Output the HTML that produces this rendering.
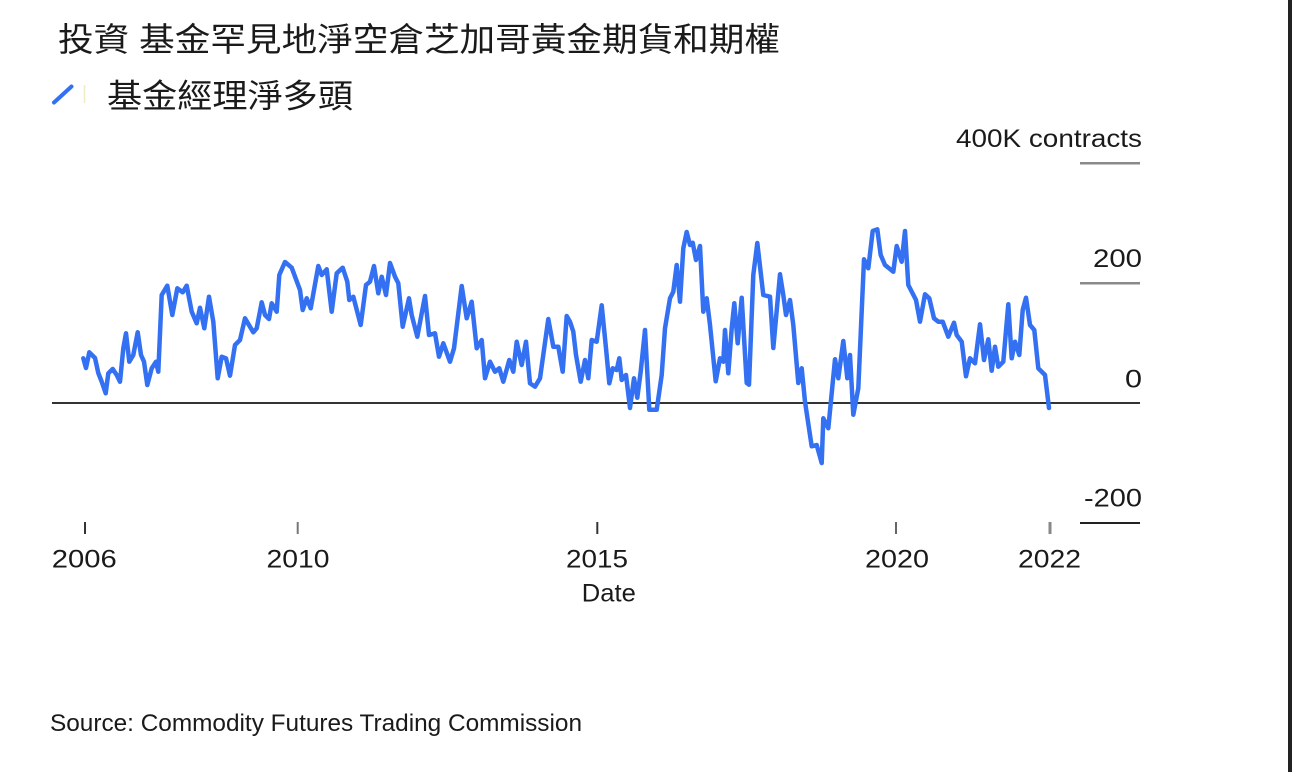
<!DOCTYPE html>
<html>
<head>
<meta charset="utf-8">
<style>
  html, body { margin:0; padding:0; background:#ffffff; }
  body { width:1292px; height:772px; overflow:hidden; }
  svg { display:block; }
  .lat { font-family: "Liberation Sans", Arial, sans-serif; fill:#1a1a1a; }
  .cjk { font-family: "Liberation Sans", "Noto Sans CJK TC", "Noto Sans CJK SC", sans-serif; fill:#1a1a1a; }
</style>
</head>
<body>
<svg width="1292" height="772" viewBox="0 0 1292 772" xmlns="http://www.w3.org/2000/svg">
  <rect x="0" y="0" width="1292" height="772" fill="#ffffff"/>

  <!-- Title -->
  <text class="cjk" x="58" y="51" font-size="33" textLength="722" lengthAdjust="spacingAndGlyphs">投資 基金罕見地淨空倉芝加哥黃金期貨和期權</text>

  <!-- Legend -->
  <line x1="54" y1="102.5" x2="71.5" y2="86.5" stroke="#3371f2" stroke-width="4" stroke-linecap="round"/>
  <line x1="84.5" y1="85" x2="84.5" y2="103" stroke="#f1ecc4" stroke-width="1.5"/>
  <text class="cjk" x="107" y="107.5" font-size="33" textLength="246" lengthAdjust="spacingAndGlyphs">基金經理淨多頭</text>

  <!-- Y axis gridline stubs -->
  <line x1="1080" y1="163.3" x2="1140" y2="163.3" stroke="#8a8a8a" stroke-width="2.5"/>
  <line x1="1080" y1="283.3" x2="1140" y2="283.3" stroke="#8a8a8a" stroke-width="2.5"/>
  <line x1="1080" y1="523" x2="1140" y2="523" stroke="#222222" stroke-width="2"/>
  <!-- zero line -->
  <line x1="52" y1="403" x2="1140" y2="403" stroke="#333333" stroke-width="2"/>

  <!-- Y labels -->
  <text class="lat" x="1142" y="147" font-size="25" text-anchor="end" textLength="186" lengthAdjust="spacingAndGlyphs">400K contracts</text>
  <text class="lat" x="1142" y="267" font-size="25" text-anchor="end" textLength="49" lengthAdjust="spacingAndGlyphs">200</text>
  <text class="lat" x="1142" y="387.3" font-size="25" text-anchor="end" textLength="17" lengthAdjust="spacingAndGlyphs">0</text>
  <text class="lat" x="1142" y="506.5" font-size="25" text-anchor="end" textLength="58" lengthAdjust="spacingAndGlyphs">-200</text>

  <!-- X ticks -->
  <g stroke-width="2">
    <line x1="85" y1="522" x2="85" y2="534" stroke="#333"/>
    <line x1="297.7" y1="522" x2="297.7" y2="534" stroke="#777"/>
    <line x1="597.3" y1="522" x2="597.3" y2="534" stroke="#333"/>
    <line x1="896" y1="522" x2="896" y2="534" stroke="#666"/>
    <line x1="1050" y1="522" x2="1050" y2="534" stroke="#888" stroke-width="3"/>
  </g>

  <!-- X labels -->
  <text class="lat" x="84.3" y="567.5" font-size="25" text-anchor="middle" textLength="65" lengthAdjust="spacingAndGlyphs">2006</text>
  <text class="lat" x="298" y="567.5" font-size="25" text-anchor="middle" textLength="63" lengthAdjust="spacingAndGlyphs">2010</text>
  <text class="lat" x="597" y="567.5" font-size="25" text-anchor="middle" textLength="62" lengthAdjust="spacingAndGlyphs">2015</text>
  <text class="lat" x="897" y="567.5" font-size="25" text-anchor="middle" textLength="64" lengthAdjust="spacingAndGlyphs">2020</text>
  <text class="lat" x="1049.5" y="567.5" font-size="25" text-anchor="middle" textLength="63" lengthAdjust="spacingAndGlyphs">2022</text>

  <text class="lat" x="608.8" y="601.7" font-size="25" text-anchor="middle" textLength="54" lengthAdjust="spacingAndGlyphs">Date</text>

  <!-- Source -->
  <text class="lat" x="50" y="731" font-size="24" textLength="532" lengthAdjust="spacingAndGlyphs" fill="#222">Source: Commodity Futures Trading Commission</text>

  <!-- Data series -->
  <polyline fill="none" stroke="#3371f2" stroke-width="4.5" stroke-linejoin="round" stroke-linecap="round" points="
83.3,358.3 86,368 89.3,352.3 95,358 98.3,373 101.7,381.7 105.7,393.3 108.3,373.3 112.7,369 116.7,375 120,381.7
123.3,348.3 126,333.3 129.3,361.7 133.3,355 137.7,332.3 141,355 144,361.7 147.3,385 151.7,368.3 156,361.7 158.3,371.7
161.7,295 167.3,285.7 172.3,315 177.3,288.3 182.7,292.3 186.7,285.7 191.7,311.7 196.7,323.3 200,307.7 204.3,328.3
209,296.7 213.3,321.7 217.7,378.3 221.7,356.7 226,358.3 230,375.7 235,345 240,340 245,318.3 253.3,332.3 256.7,328.3
261.7,302.3 265,315 269,319 271.7,303.3 276.7,311.7 279.3,275 285,262 291.7,267.7 300,290 302.7,310 306.7,298.3
310.7,308.3 318.3,266 321.7,275 326.7,269.3 331.7,311.7 336.7,273.3 342.7,267.7 347.3,281.7 349.3,300 353.3,296.7
360.7,325 366,285 370,281.7 374,266 378.3,293.3 381.7,276.7 386,295 390,263 395,276.7 398.3,283.3 402.7,326.7
409,298.3 411.7,315 417.3,336.7 425,296 429,335 435,333.3 439,356.7 443.3,343.3 450,361.7 454,348.3 461.7,286
466.7,318.3 471.7,301.7 476.7,348.3 481.7,340 485,378.3 490,361.7 495,371.7 499.3,368.3 503.3,381.7 509.3,360
513.3,371.7 516.7,341.7 521.7,365 526,341.7 530,383.3 535,386.7 540,378.3 548.3,319 553.3,346.7 558.3,346.7
562.7,371.7 566.7,316 570,321.7 573.3,331.7 576,355 580.7,381.7 585,360 588.3,378.3 591.7,340 596.7,341.7
601.7,305.3 606,348.3 609.3,383.3 612.7,368.3 616.7,370 619.3,358.3 621.7,380 626,375 630,408 634,378.3 637.3,397.7
640.7,371.7 645,330 649.3,409.7 656.7,409.7 661.7,375 665,328.3 670,298.3 673.3,291.7 676.7,265 680,301.7
683.3,248.3 686.7,232 690,245 692.7,242.7 696,260 700,246 703.3,311.7 706.7,298.3 710,325 715.7,381.3 720,358.3
723.3,361.7 725,330 728.3,373.3 731.7,328.3 734.3,303.3 737.7,343.3 741.7,297.7 746.7,383 749,384.7 753.3,275
757.3,243 763.3,295 770,296.7 773.3,348 780,274.3 783.3,295 786,315 790,300 793.3,325 798.3,383 801.7,368.3
805,401.7 811.7,446.3 816.7,445 821.7,463 823.3,418.3 828.3,428.3 835,359.3 838.3,378.3 843.3,341 847.3,378.3
850,355 853.3,414.7 858.3,388.3 864,259.3 868.3,268.3 872.7,231 877.3,229.3 880.7,255 885,265 893.3,271.7
896.7,246 901.7,261.7 905,231 908.3,285 916,300 920,321.7 925,294.3 929.3,298.3 934,318.3 938.3,321.7 942.7,321.7
948.3,336.7 954,322.7 956.7,335 961.7,341.7 966,376.3 970,358.3 975,363.3 980,324.3 984,360 988.3,339.3 991.7,370.7
995,346.7 998.3,366.7 1003.3,361.7 1008.3,304.3 1011.7,358.3 1015,341.7 1019.3,355 1022.7,310 1026,297.7 1030,325
1034.3,330 1038.3,368.3 1045,375 1049,408"/>

  <!-- Right dark edge -->
  <rect x="1288" y="0" width="4" height="772" fill="#222222"/>
</svg>
</body>
</html>
